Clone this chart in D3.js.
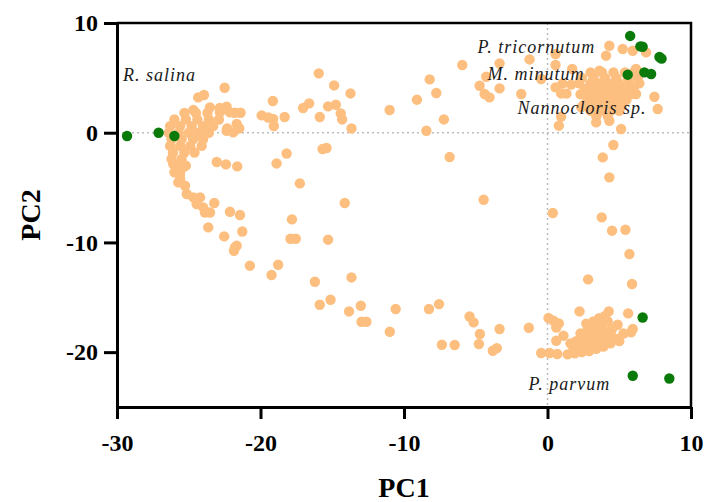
<!DOCTYPE html>
<html>
<head>
<meta charset="utf-8">
<script src="https://cdn.jsdelivr.net/npm/d3@7"></script>
<style>
  html, body { margin: 0; padding: 0; background: #fff; }
  svg { display: block; }
</style>
</head>
<body>
<div id="chart"></div>
<script>
// PC1 / PC2 scores
const orangePoints = [
  // scattered, left arc and upper band
  [-15.94, 5.41], [-14.87, 4.31], [-13.73, 3.58], [-22.50, 4.10], [-24.34, 3.22],
  [-23.94, 3.44], [-19.14, 2.89], [-23.52, 2.31], [-22.83, 2.25], [-22.36, 2.37],
  [-24.68, 2.07], [-17.03, 2.25], [-16.61, 2.67], [-15.29, 2.40], [-14.75, 2.55],
  [-21.78, 1.82], [-21.39, 1.82], [-19.92, 1.58], [-19.46, 1.39], [-19.12, 1.25],
  [-18.32, 1.43], [-15.87, 1.43], [-14.41, 1.76], [-14.31, 1.21], [-13.66, 0.39],
  [-19.07, 0.61], [-22.32, 0.39], [-21.48, 0.39], [-21.90, 0.03], [-15.68, -1.49],
  [-15.40, -1.39], [-18.18, -1.89], [-18.88, -2.80], [-23.05, -2.67], [-22.41, -2.89],
  [-21.62, -3.07], [-17.26, -4.62], [-14.13, -6.41], [-17.81, -7.90], [-17.91, -9.66],
  [-17.54, -9.66], [-15.29, -9.75], [-21.78, -10.46],
  [-22.83, 1.85], [-22.13, 1.85], [-21.66, 0.79], [-21.55, 0.48], [-22.36, 0.18],
  // left arm going down
  [-26.08, -2.85], [-25.61, -3.76], [-25.38, -3.16], [-25.73, -4.53], [-25.26, -4.83],
  [-25.14, -5.59], [-24.68, -5.90], [-24.21, -5.90], [-24.45, -6.50], [-23.99, -6.81],
  [-23.87, -7.27], [-23.52, -7.27], [-23.22, -6.41], [-22.13, -7.20], [-21.43, -7.50],
  [-23.64, -8.63], [-22.53, -9.45], [-21.27, -9.00], [-21.66, -10.30], [-21.85, -10.76],
  [-20.74, -12.12], [-19.23, -12.97], [-18.77, -12.03], [-16.21, -13.58], [-13.66, -13.19],
  [-15.87, -15.68], [-15.12, -15.22], [-13.83, -16.29], [-13.01, -15.77], [-12.96, -17.23],
  [-12.62, -17.23], [-10.99, -18.14], [-10.58, -16.07],
  // left dense cluster
  [-25.3, 1.8], [-24.5, 1.8], [-23.7, 1.8],
  [-26.0, 1.2], [-25.2, 1.2], [-24.4, 1.2], [-23.6, 1.2], [-22.9, 1.2],
  [-26.3, 0.6], [-25.6, 0.6], [-24.8, 0.6], [-24.0, 0.6], [-23.3, 0.6],
  [-26.4, 0.0], [-25.7, 0.0], [-25.0, 0.0], [-24.3, 0.0], [-23.6, 0.0],
  [-26.2, -0.6], [-25.5, -0.6], [-24.7, -0.6], [-24.0, -0.6],
  [-26.3, -1.2], [-25.6, -1.2], [-24.9, -1.2], [-24.1, -1.2],
  [-26.1, -1.8], [-25.3, -1.8], [-24.6, -1.8],
  [-26.2, -2.4], [-25.5, -2.4], [-25.9, -3.0], [-25.2, -3.0], [-26.0, -3.6], [-25.6, -4.2],
  // lower band towards the right
  [-4.45, -6.11], [0.37, -7.32], [3.78, -7.72], [4.50, -8.93], [5.43, -8.84],
  [5.71, -11.06], [2.83, -13.37], [5.89, -13.79], [2.23, -16.29], [4.27, -16.29],
  [5.62, -16.47], [-8.26, -16.07], [-7.56, -15.62], [-5.43, -16.75], [-5.15, -17.29],
  [-4.71, -18.35], [-4.78, -19.26], [-3.34, -17.89], [-7.36, -19.33], [-6.47, -19.35],
  [-3.81, -19.87], [-3.53, -19.63], [-1.30, -17.78], [0.07, -16.89], [0.42, -17.14],
  [0.79, -17.38], [0.61, -17.75], [-0.44, -20.08], [0.14, -20.08], [0.68, -20.17],
  [0.61, -18.96], [1.11, -18.50], [4.89, -17.50], [5.82, -18.20], [5.94, -17.89],
  [4.54, -18.66],
  // bottom right dense cluster
  [1.4, -20.2], [1.9, -20.1], [2.4, -20.0], [2.9, -19.9], [3.4, -19.7], [3.9, -19.5],
  [4.4, -19.2], [4.9, -18.8], [1.8, -19.6], [2.3, -19.5], [2.8, -19.3], [3.3, -19.1],
  [3.8, -18.9], [4.3, -18.6], [2.0, -19.0], [2.5, -18.8], [3.0, -18.6], [3.5, -18.4],
  [4.0, -18.1], [4.5, -17.9], [2.3, -18.3], [2.8, -18.0], [3.3, -17.8], [3.8, -17.5],
  [4.2, -17.2], [2.7, -17.4], [3.2, -17.2], [3.6, -16.9], [4.0, -16.7], [5.3, -18.3],
  [5.0, -19.0], [1.6, -19.2],
  // upper middle
  [-5.94, 6.17], [-8.21, 4.86], [-7.75, 3.62], [-9.10, 3.01], [-11.00, 2.07],
  [-7.22, 1.21], [-8.44, 0.18], [-6.82, -2.22], [-3.34, 6.32], [-1.25, 6.68],
  [0.56, 7.17], [0.56, 6.17], [-4.27, 5.10], [-4.73, 4.28], [-4.38, 3.53],
  [-4.04, 3.22], [-3.34, 4.04], [-1.83, 3.53], [-0.44, 4.90], [0.56, 4.13],
  [0.95, 3.58], [1.72, 5.81], [1.65, 4.38], [0.79, 0.64], [0.95, 1.46],
  [1.04, 4.47], [1.32, 3.56], [2.35, 2.31],
  // upper right
  [4.31, 7.93], [4.08, 7.02], [5.24, 7.63], [5.94, 7.47], [6.87, 7.32],
  [3.62, 5.65], [6.17, 5.81], [7.45, 3.28], [7.68, 2.16], [6.17, 3.53],
  [3.39, 0.94], [4.31, 1.09], [5.13, 0.34], [4.59, -1.12], [3.85, -2.25], [4.31, -4.07],
  // upper right dense cluster
  [3.0, 5.5], [3.8, 5.5], [4.6, 5.5], [5.4, 5.5], [6.0, 5.5],
  [2.4, 5.0], [3.2, 5.0], [4.0, 5.0], [4.8, 5.0], [5.6, 5.0], [6.3, 5.0],
  [2.2, 4.5], [3.0, 4.5], [3.6, 4.5], [4.3, 4.5], [5.0, 4.5], [5.7, 4.5], [6.4, 4.5],
  [2.6, 4.0], [3.3, 4.0], [4.0, 4.0], [4.7, 4.0], [5.3, 4.0], [6.0, 4.0],
  [2.3, 3.5], [3.0, 3.5], [3.7, 3.5], [4.4, 3.5], [5.1, 3.5], [5.8, 3.5],
  [2.8, 3.0], [3.5, 3.0], [4.2, 3.0], [4.9, 3.0], [5.5, 3.0],
  [2.5, 2.5], [3.2, 2.5], [3.9, 2.5], [4.6, 2.5], [5.2, 2.5],
  [3.0, 2.0], [3.7, 2.0], [4.4, 2.0], [5.0, 2.0], [3.4, 1.5], [4.2, 1.5]
];

const greenPoints = [
  [-29.3, -0.3], [-27.1, 0.0], [-26.0, -0.3],
  [5.76, 8.82], [6.47, 7.87], [6.63, 7.84], [7.8, 6.9], [7.95, 6.75],
  [5.59, 5.29], [6.75, 5.50], [7.22, 5.35],
  [6.63, -16.84], [5.94, -22.15], [8.49, -22.40]
];

const speciesLabels = [
  { text: "R. salina", x: -29.58, y: 4.74 },
  { text: "P. tricornutum", x: -4.87, y: 7.29 },
  { text: "M. minutum", x: -4.18, y: 4.83 },
  { text: "Nannocloris sp.", x: -2.09, y: 1.73 },
  { text: "P. parvum", x: -1.32, y: -23.43 }
];

const xTicks = [-30, -20, -10, 0, 10];
const yTicks = [-20, -10, 0, 10];

const width = 707, height = 502;
const margin = { top: 23, right: 16, bottom: 95, left: 117 };
const serif = "Liberation Serif, Times New Roman, serif";

const x = d3.scaleLinear().domain([-30, 10]).range([margin.left, width - margin.right]);
const y = d3.scaleLinear().domain([-25, 10]).range([height - margin.bottom, margin.top]);

const svg = d3.select("#chart").append("svg")
  .attr("width", width)
  .attr("height", height);

// dotted zero lines
svg.append("line")
  .attr("x1", x(0)).attr("x2", x(0))
  .attr("y1", y(10)).attr("y2", y(-25))
  .attr("stroke", "#bdbdbd").attr("stroke-width", 1.5)
  .attr("stroke-dasharray", "2,3");
svg.append("line")
  .attr("x1", x(-30)).attr("x2", x(10))
  .attr("y1", y(0)).attr("y2", y(0))
  .attr("stroke", "#bdbdbd").attr("stroke-width", 1.5)
  .attr("stroke-dasharray", "2,3");

// points
svg.append("g")
  .selectAll("circle")
  .data(orangePoints)
  .join("circle")
  .attr("cx", d => x(d[0]))
  .attr("cy", d => y(d[1]))
  .attr("r", 5.2)
  .attr("fill", "#fdbf80");

svg.append("g")
  .selectAll("circle")
  .data(greenPoints)
  .join("circle")
  .attr("cx", d => x(d[0]))
  .attr("cy", d => y(d[1]))
  .attr("r", 5.2)
  .attr("fill", "#0a7a0a");

// species names
svg.append("g")
  .selectAll("text")
  .data(speciesLabels)
  .join("text")
  .attr("x", d => x(d.x))
  .attr("y", d => y(d.y))
  .attr("font-family", serif)
  .attr("font-style", "italic")
  .attr("font-size", 18)
  .attr("letter-spacing", 1)
  .attr("fill", "#1a1a1a")
  .text(d => d.text);

// frame (top and right)
svg.append("path")
  .attr("d", `M${x(-30)},${y(10)}H${x(10)}V${y(-25)}`)
  .attr("fill", "none")
  .attr("stroke", "#000")
  .attr("stroke-width", 2.5);

// axes
const xAxis = svg.append("g")
  .attr("transform", `translate(0,${y(-25)})`)
  .call(d3.axisBottom(x).tickValues(xTicks).tickFormat(d => String(d))
    .tickSize(12).tickSizeOuter(0).tickPadding(15));

const yAxis = svg.append("g")
  .attr("transform", `translate(${x(-30)},0)`)
  .call(d3.axisLeft(y).tickValues(yTicks).tickFormat(d => String(d))
    .tickSize(13).tickSizeOuter(0).tickPadding(6));

[xAxis, yAxis].forEach(g => {
  g.select(".domain").attr("stroke-width", 3);
  g.selectAll(".tick line").attr("stroke-width", 3);
  g.selectAll(".tick text")
    .attr("font-family", serif)
    .attr("font-weight", "bold")
    .attr("font-size", 24)
    .attr("fill", "#000");
});

svg.append("text")
  .attr("x", (x(-30) + x(10)) / 2)
  .attr("y", 497)
  .attr("text-anchor", "middle")
  .attr("font-family", serif)
  .attr("font-weight", "bold")
  .attr("font-size", 28)
  .text("PC1");

svg.append("text")
  .attr("transform", `translate(40,${(y(10) + y(-25)) / 2}) rotate(-90)`)
  .attr("text-anchor", "middle")
  .attr("font-family", serif)
  .attr("font-weight", "bold")
  .attr("font-size", 28)
  .text("PC2");
</script>
</body>
</html>
